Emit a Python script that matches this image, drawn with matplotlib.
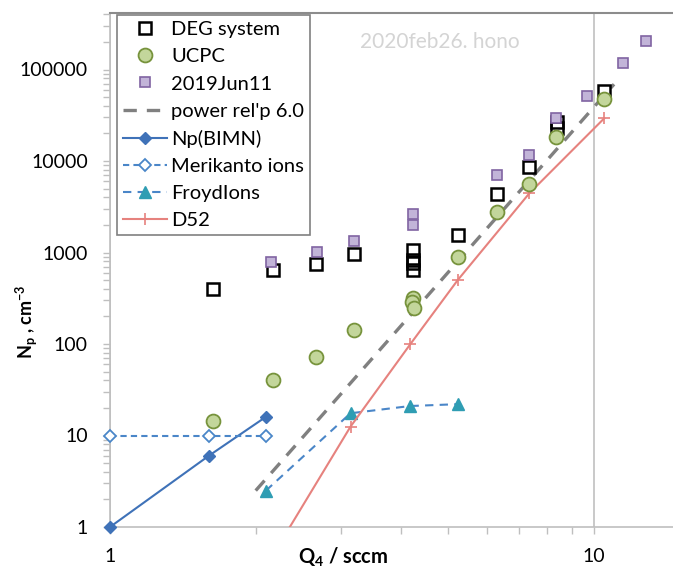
import matplotlib
matplotlib.use('Agg')
import matplotlib.pyplot as plt
from matplotlib.ticker import LogLocator, FuncFormatter, NullFormatter

plt.rcParams['font.family'] = ['Lato', 'DejaVu Sans']
plt.rcParams['mathtext.default'] = 'regular'

# data (Q4 in sccm, Np in cm-3)
deg_x = [1.63, 2.17, 2.67, 3.19, 4.23, 4.23, 4.23, 4.23, 5.24, 6.30, 7.35, 8.37, 8.37, 10.5]
deg_y = [396, 644, 743, 963, 1069, 826, 760, 640, 1553, 4330, 8670, 22800, 26900, 58700]

ucpc_x = [1.63, 2.17, 2.67, 3.19, 4.23, 4.21, 4.25, 5.23, 6.30, 7.35, 8.35, 10.5]
ucpc_y = [14.5, 40, 73, 142, 320, 285, 245, 900, 2790, 5610, 18400, 47600]

jun_x = [2.15, 2.68, 3.19, 4.23, 4.23, 6.30, 7.35, 8.35, 9.69, 11.5, 12.8]
jun_y = [795, 1020, 1345, 2614, 1995, 7030, 11600, 29300, 51300, 117000, 206000]

power_x = [2.0, 11.0]
power_y = [2.5, 69000]

bimn_x = [1.0, 1.6, 2.1]
bimn_y = [1, 6, 16]

mer_x = [1.0, 1.6, 2.1]
mer_y = [10, 10, 10]

froyd_x = [2.1, 3.14, 4.17, 5.23]
froyd_y = [2.5, 17.5, 21, 22]

d52_x = [2.1, 3.14, 4.17, 5.23, 7.35, 10.5]
d52_y = [0.37, 12.5, 99, 500, 4430, 29300]

fig = plt.figure(figsize=(6.73, 5.68), dpi=100)
ax = fig.add_axes([110 / 673, 1 - 527 / 568, 563 / 673, 514 / 568])
ax.set_xscale('log')
ax.set_yscale('log')

ax.plot(deg_x, deg_y, 's', ms=9, mfc='none', mec='black', mew=1.8, label='DEG system', zorder=5)
ax.plot(ucpc_x, ucpc_y, 'o', ms=10, mfc='#c3d69b', mec='#77933c', mew=1.3, label='UCPC', zorder=5)
ax.plot(jun_x, jun_y, 's', ms=7, mfc='#c2b4d8', mec='#8064a2', mew=1.2, label='2019Jun11', zorder=6)
ax.plot(power_x, power_y, '--', color='#808080', lw=2.4, dashes=(4, 3), label="power rel'p 6.0", zorder=4)
ax.plot(bimn_x, bimn_y, '-D', color='#3f72b8', lw=1.5, ms=6, label='Np(BIMN)', zorder=4, clip_on=False)
ax.plot(mer_x, mer_y, '--D', color='#4a86c8', lw=1.5, ms=6, mfc='white', mew=1.3, dashes=(3, 2),
        label='Merikanto ions', zorder=4, clip_on=False)
ax.plot(froyd_x, froyd_y, '--^', color='#4a86c8', lw=1.5, ms=8, mfc='#2f9db3', mec='#2f9db3',
        dashes=(4, 3), label='FroydIons', zorder=4)
ax.plot(d52_x, d52_y, '-+', color='#e6827e', lw=1.5, ms=8, mew=1.2, label='D52', zorder=4)

ax.set_xlim(1, 10 ** (563 / 484))
ax.set_ylim(1, 10 ** (514 / 91.5))

ax.xaxis.set_major_locator(LogLocator(base=10))
ax.xaxis.set_minor_locator(LogLocator(base=10, subs=range(2, 10)))
ax.yaxis.set_major_locator(LogLocator(base=10))
ax.yaxis.set_minor_locator(LogLocator(base=10, subs=range(2, 10)))
fmt = FuncFormatter(lambda v, p: f'{v:.0f}')
ax.xaxis.set_major_formatter(fmt)
ax.yaxis.set_major_formatter(fmt)
ax.xaxis.set_minor_formatter(NullFormatter())
ax.yaxis.set_minor_formatter(NullFormatter())
ax.tick_params(which='both', direction='out', length=5, width=1, color='#bfbfbf',
               labelsize=14, labelcolor='black')
ax.tick_params(axis='x', pad=10)
ax.tick_params(axis='y', pad=11)

ax.grid(True, axis='x', which='major', color='#c0c0c0', lw=1.2, zorder=0)

for s in ['left', 'bottom']:
    ax.spines[s].set_color('#bfbfbf')
    ax.spines[s].set_linewidth(1.2)
ax.spines['top'].set_color('#8c8c8c')
ax.spines['top'].set_linewidth(1.5)
ax.spines['right'].set_visible(False)

ax.set_xlabel('Q$_4$ / sccm', fontsize=14.5, fontweight='bold')
ax.xaxis.set_label_coords(0.414, -0.037)
ax.set_ylabel('N$_p$ , cm$^{-3}$', fontsize=13, fontweight='bold')
ax.yaxis.set_label_coords(-0.125, 0.40)

ax.text(0.586, 0.944, '2020feb26. hono', transform=ax.transAxes, ha='center', va='center',
        fontsize=15, color='#d4d4d4')

leg = ax.legend(loc='upper left', bbox_to_anchor=(0.012, 0.996), fontsize=14.5, frameon=True,
                fancybox=False, edgecolor='#808080', framealpha=1, borderaxespad=0,
                labelspacing=0.5, handlelength=2.2, handletextpad=0.2, borderpad=0.3)
leg.get_frame().set_linewidth(1.2)

fig.savefig('out.png', dpi=100)
